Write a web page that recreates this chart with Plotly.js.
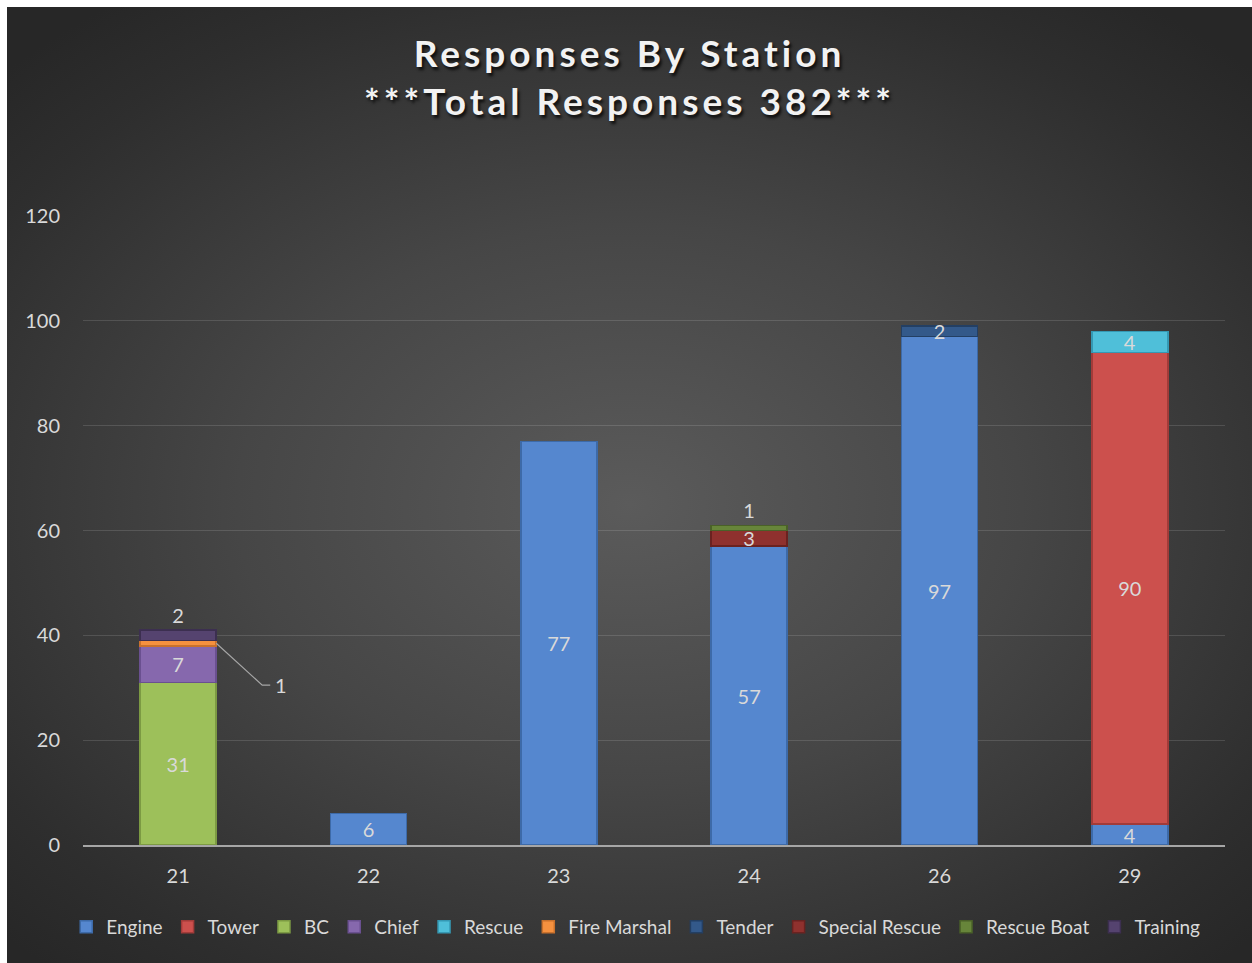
<!DOCTYPE html>
<html>
<head>
<meta charset="utf-8">
<script src="https://cdn.plot.ly/plotly-3.0.1.min.js"></script>
<style>
  html, body { margin: 0; padding: 0; background: #ffffff; width: 1252px; height: 963px; overflow: hidden; }
  #bg {
    position: absolute; left: 7px; top: 7px; width: 1245px; height: 956px;
    background: radial-gradient(ellipse 70% 65% at 50% 52%, #5b5b5b 0%, #464646 45%, #2e2e2e 85%, #272727 100%);
  }
  #chart { position: absolute; left: 0; top: 0; width: 1245px; height: 956px; }
  #chart .gtitle { letter-spacing: 4px; }
</style>
</head>
<body>
<div id="bg"><div id="chart"></div></div>
<script>
// ---- data ----
const stations = ['21', '22', '23', '24', '26', '29'];
const engine        = [null, 6, 77, 57, 97, 4];
const tower         = [null, null, null, null, null, 90];
const bc            = [31, null, null, null, null, null];
const chief         = [7, null, null, null, null, null];
const rescue        = [null, null, null, null, null, 4];
const fireMarshal   = [1, null, null, null, null, null];
const tender        = [null, null, null, null, 2, null];
const specialRescue = [null, null, null, 3, null, null];
const rescueBoat    = [null, null, null, 1, null, null];
const training      = [2, null, null, null, null, null];
const yTicks = [0, 20, 40, 60, 80, 100, 120];

const seriesNames  = ['Engine', 'Tower', 'BC', 'Chief', 'Rescue', 'Fire Marshal', 'Tender', 'Special Rescue', 'Rescue Boat', 'Training'];
const seriesValues = [engine, tower, bc, chief, rescue, fireMarshal, tender, specialRescue, rescueBoat, training];
const seriesColors = ['#5587cf', '#cc504d', '#9dc05a', '#8668ad', '#4fbfd9', '#f5913f', '#33598a', '#8f312e', '#67853a', '#55436f'];
const seriesLines  = ['#3d6aa8', '#a23b39', '#7c9a43', '#6a5090', '#3598b3', '#c9712c', '#233f63', '#6a2220', '#4a6128', '#3c2f50'];
// label placement per series
const textPos = ['inside', 'inside', 'inside', 'inside', 'inside', 'none', 'inside', 'inside', 'outside', 'outside'];

const labelColor = '#d9d9d9';
const fontFam = 'Lato, "Noto Sans", sans-serif';

const traces = seriesNames.map((name, i) => ({
  type: 'bar',
  name: name,
  x: stations,
  y: seriesValues[i],
  marker: { color: seriesColors[i], line: { color: seriesLines[i], width: 1.5 } },
  texttemplate: textPos[i] === 'none' ? '' : '%{y}',
  textposition: textPos[i] === 'none' ? 'none' : textPos[i],
  textangle: 0,
  insidetextanchor: 'middle',
  constraintext: 'none',
  cliponaxis: false,
  textfont: { color: labelColor, size: 20, family: fontFam },
  insidetextfont: { color: labelColor, size: 20, family: fontFam },
  outsidetextfont: { color: labelColor, size: 20, family: fontFam },
  hoverinfo: 'x+y+name'
}));

// leader label for the Fire Marshal slice of station 21
const fmIdx = 0;
const fmBase = (bc[fmIdx] || 0) + (chief[fmIdx] || 0);
const fmMid = fmBase + fireMarshal[fmIdx] / 2;
const barHalf = 0.2; // half of bar width (bargap 0.6)

const layout = {
  width: 1245, height: 956,
  paper_bgcolor: 'rgba(0,0,0,0)',
  plot_bgcolor: 'rgba(0,0,0,0)',
  margin: { l: 76, r: 27, t: 209, b: 118, autoexpand: false },
  barmode: 'stack',
  bargap: 0.6,
  font: { family: fontFam, color: labelColor, size: 20 },
  title: {
    text: 'Responses By Station<br>***Total Responses 382***',
    x: 0.5, xanchor: 'center', y: 0.9375, yanchor: 'top', yref: 'container',
    font: { size: 37, color: '#f2f2f2', family: fontFam, weight: 'bold', shadow: '2px 3px 3px rgba(0,0,0,0.75)' }
  },
  xaxis: {
    type: 'category',
    tickfont: { size: 20, color: labelColor },
    showgrid: false,
    showline: true, linecolor: '#a6a6a6', linewidth: 2,
    ticks: '', ticklen: 0,
    ticklabelstandoff: 12,
    zeroline: false
  },
  yaxis: {
    range: [0, 120],
    tickvals: yTicks,
    tickfont: { size: 20, color: labelColor },
    showgrid: true, gridcolor: 'rgba(255,255,255,0.13)', gridwidth: 1,
    zeroline: false,
    showline: false,
    ticks: '', ticklabelstandoff: 22
  },
  legend: {
    orientation: 'h',
    x: 0.484, xanchor: 'center',
    y: -0.1, yanchor: 'top',
    font: { size: 19, color: labelColor },
    itemwidth: 30,
    traceorder: 'normal',
    bgcolor: 'rgba(0,0,0,0)'
  },
  showlegend: true,
  shapes: [{
    type: 'path',
    xref: 'x', yref: 'y',
    xsizemode: 'pixel', ysizemode: 'pixel',
    xanchor: barHalf, yanchor: fmMid,
    path: 'M0,0 L46,-42 L54,-42',
    line: { color: '#a6a6a6', width: 1.2 }
  }],
  annotations: [{
    xref: 'x', yref: 'y',
    x: barHalf, y: fmMid,
    xshift: 65, yshift: -42,
    text: String(fireMarshal[fmIdx]),
    showarrow: false,
    font: { size: 20, color: labelColor }
  }]
};

Plotly.newPlot('chart', traces, layout, { displayModeBar: false, staticPlot: true });
</script>
</body>
</html>
